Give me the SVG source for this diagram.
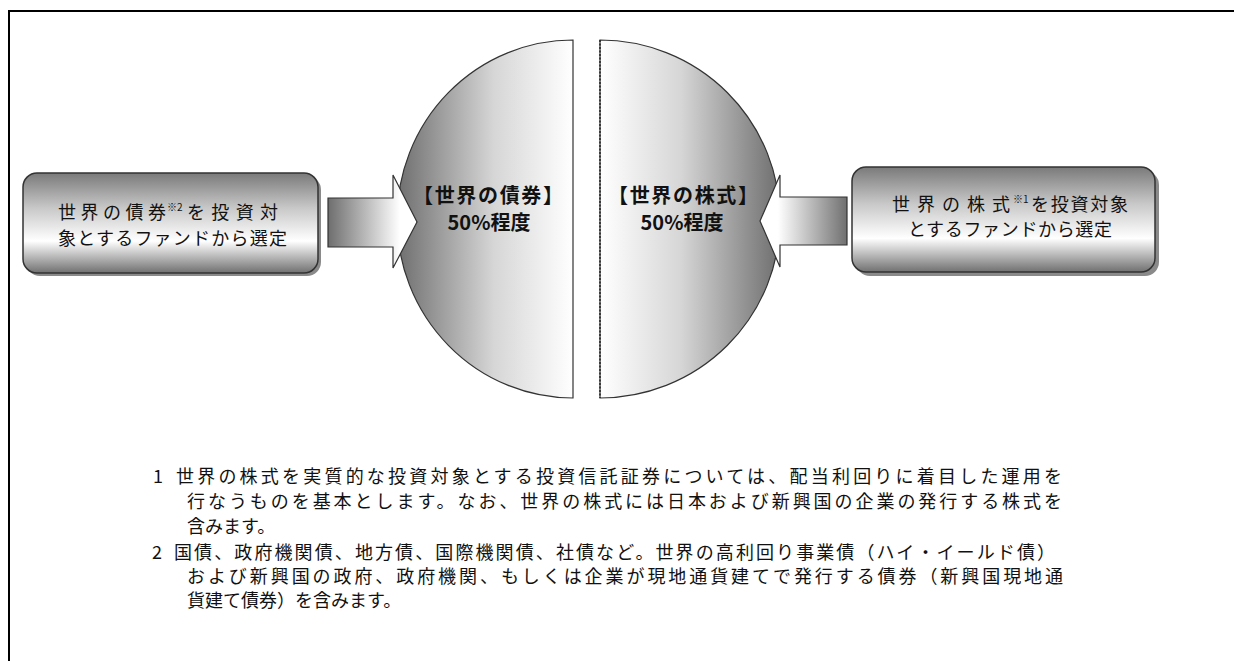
<svg xmlns="http://www.w3.org/2000/svg" width="1234" height="661" viewBox="0 0 1234 661">
<style>
.jp{font-family:"Noto Sans CJK JP","Noto Sans",sans-serif;fill:#111}
.note{font-size:18px}
.box{font-size:18px}
.big{font-size:20px;font-weight:bold;text-anchor:middle}
.sup{font-size:10px}
.outline{stroke:#333;stroke-width:1.2}
</style>
<defs>
<linearGradient id="gL" x1="0" y1="0" x2="1" y2="0"><stop offset="0" stop-color="#6e6e6e"/><stop offset="0.55" stop-color="#d6d6d6"/><stop offset="1" stop-color="#ffffff"/></linearGradient>
<linearGradient id="gR" x1="0" y1="0" x2="1" y2="0"><stop offset="0" stop-color="#ffffff"/><stop offset="0.45" stop-color="#d6d6d6"/><stop offset="1" stop-color="#6e6e6e"/></linearGradient>
<linearGradient id="gBox" x1="0" y1="0" x2="0" y2="1"><stop offset="0" stop-color="#7a7a7a"/><stop offset="0.35" stop-color="#c8c8c8"/><stop offset="0.68" stop-color="#ffffff"/><stop offset="1" stop-color="#707070"/></linearGradient>
<linearGradient id="gArrL" gradientUnits="userSpaceOnUse" x1="328" y1="0" x2="400" y2="0"><stop offset="0" stop-color="#6e6e6e"/><stop offset="1" stop-color="#ffffff"/></linearGradient>
<linearGradient id="gArrR" gradientUnits="userSpaceOnUse" x1="778" y1="0" x2="848" y2="0"><stop offset="0" stop-color="#ffffff"/><stop offset="1" stop-color="#6e6e6e"/></linearGradient>
</defs>
<rect width="1234" height="661" fill="#fff"/>
<path d="M9,661 V11 H1234" fill="none" stroke="#000" stroke-width="2"/>

<g id="bonds-half">
<path d="M573,40 A176,179 0 0 0 573,398 Z" fill="url(#gL)" class="outline"/>
<text class="jp big" x="488" y="203" textLength="150" lengthAdjust="spacing">【世界の債券】</text>
<text class="jp big" x="489" y="230">50%程度</text>
</g>

<g id="stocks-half">
<path d="M600,40 A180,179 0 0 1 600,398 Z" fill="url(#gR)" stroke="#333" stroke-width="1.2"/>
<line x1="600" y1="40" x2="600" y2="398" stroke="#222" stroke-width="1.5" stroke-dasharray="2,1.5"/>
<text class="jp big" x="683" y="203" textLength="150" lengthAdjust="spacing">【世界の株式】</text>
<text class="jp big" x="682" y="230">50%程度</text>
</g>

<g id="connectors">
<path d="M328,198 H393 V175 L417,222 L393,268 V247 H328 Z" fill="url(#gArrL)" class="outline"/>
<path d="M847,197 H780 V175 L760,221 L780,267 V245 H847 Z" fill="url(#gArrR)" class="outline"/>
</g>

<g id="bond-fund-box">
<rect x="26" y="176" width="295" height="100" rx="14" fill="#8a8a8a"/>
<rect x="23" y="173" width="295" height="100" rx="14" fill="url(#gBox)" stroke="#333" stroke-width="1.5"/>
<text class="jp box" y="219"><tspan x="58" textLength="108" lengthAdjust="spacing">世界の債券</tspan><tspan class="sup" x="167" dy="-8">※2</tspan><tspan x="187" dy="8" textLength="91" lengthAdjust="spacing">を投資対</tspan></text>
<text class="jp box" x="58" y="245" textLength="229" lengthAdjust="spacing">象とするファンドから選定</text>
</g>

<g id="stock-fund-box">
<rect x="856" y="171" width="303" height="105" rx="14" fill="#8a8a8a"/>
<rect x="852" y="167" width="303" height="105" rx="14" fill="url(#gBox)" stroke="#333" stroke-width="1.5"/>
<text class="jp box" y="211"><tspan x="892" textLength="118" lengthAdjust="spacing">世界の株式</tspan><tspan class="sup" x="1013" dy="-8">※1</tspan><tspan x="1031" dy="8" textLength="97" lengthAdjust="spacing">を投資対象</tspan></text>
<text class="jp box" x="908" y="236" textLength="204" lengthAdjust="spacing">とするファンドから選定</text>
</g>

<g id="notes">
<text class="jp note" x="153" y="483">1</text>
<text class="jp note" x="176" y="483" textLength="886" lengthAdjust="spacing">世界の株式を実質的な投資対象とする投資信託証券については、配当利回りに着目した運用を</text>
<text class="jp note" x="187" y="508" textLength="875" lengthAdjust="spacing">行なうものを基本とします。なお、世界の株式には日本および新興国の企業の発行する株式を</text>
<text class="jp note" x="187" y="533">含みます。</text>
<text class="jp note" x="152" y="559">2</text>
<text class="jp note" x="174" y="559" textLength="881" lengthAdjust="spacing">国債、政府機関債、地方債、国際機関債、社債など。世界の高利回り事業債（ハイ・イールド債）</text>
<text class="jp note" x="187" y="583" textLength="876" lengthAdjust="spacing">および新興国の政府、政府機関、もしくは企業が現地通貨建てで発行する債券（新興国現地通</text>
<text class="jp note" x="187" y="607">貨建て債券）を含みます。</text>
</g>
</svg>
